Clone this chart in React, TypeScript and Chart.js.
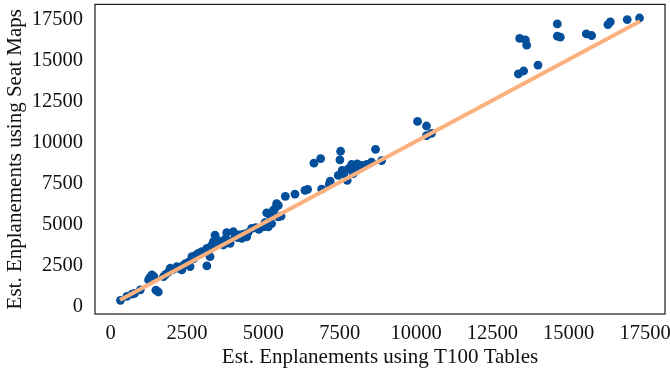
import React, { useEffect, useRef } from "react";
import { Chart, registerables } from "chart.js";

Chart.register(...registerables);

const t100X: number[] = [
  320, 530, 700, 780, 970, 1240, 1280, 1350, 1420, 1480, 1560, 1730, 1800, 1900,
  1950, 2050, 2170, 2250, 2330, 2380, 2450, 2550, 2600, 2660, 2720, 2780, 2870,
  2950, 2980, 3050, 3150, 3150, 3255, 3255, 3300, 3364, 3418, 3450, 3520, 3580,
  3690, 3750, 3800, 3850, 3910, 4017, 4073, 4150, 4200, 4292, 4350, 4455, 4500,
  4619, 4750, 4850, 5000, 5050, 5163, 5109, 5218, 5272, 5327, 5381, 5436, 5490,
  5490, 5580, 5720, 6035, 6363, 6450, 6657, 6876, 6909, 7158, 7190, 7453, 7508,
  7530, 7583, 7638, 7747, 7780, 7890, 7944, 8000, 8074, 8150, 8217, 8381, 8545,
  8675, 8872, 10050, 10343, 10343, 10507, 13352, 13526, 13395, 13582, 13625,
  13995, 14628, 14628, 14726, 15577, 15751, 16285, 16363, 16918, 17321,
];

const seatMapY: number[] = [
  360, 600, 740, 780, 1000, 1610, 1750, 1910, 1800, 980, 870, 1810, 1950, 2100,
  2320, 2250, 2420, 2300, 2220, 2500, 2600, 2700, 2420, 3030, 2900, 3100, 3230,
  3200, 3330, 3300, 3540, 2460, 3030, 3540, 3700, 3940, 4340, 3800, 4000, 3840,
  3740, 4100, 4490, 4000, 3840, 4550, 4240, 4200, 4350, 4140, 4400, 4240, 4500,
  4750, 4800, 4700, 4850, 5100, 4850, 5700, 5560, 5050, 5860, 5970, 6270, 5460,
  6166, 5500, 6713, 6853, 7078, 7139, 8736, 9022, 7157, 7442, 7643, 7989, 8943,
  9466, 8293, 8092, 7685, 8396, 8657, 8092, 8300, 8700, 8550, 8596, 8657, 8797,
  9587, 8900, 11290, 11008, 10420, 10560, 14186, 14368, 16355, 16270, 15948,
  14733, 17243, 16495, 16434, 16636, 16535, 17205, 17363, 17510, 17606,
];

const fitX: number[] = [305, 17337];
const fitY: number[] = [377, 17402];

const xTicks: number[] = [0, 2500, 5000, 7500, 10000, 12500, 15000, 17500];
const yTicks: number[] = [0, 2500, 5000, 7500, 10000, 12500, 15000, 17500];

const xTitle = "Est. Enplanements using T100 Tables";
const yTitle = "Est. Enplanements using Seat Maps";

const FONT = "'Liberation Serif', 'Times New Roman', serif";

const framePlugin = {
  id: "frame",
  afterDatasetsDraw(chart: any) {
    const { ctx, chartArea } = chart;
    ctx.save();
    ctx.strokeStyle = "#1a1a1a";
    ctx.lineWidth = 1.2;
    ctx.strokeRect(
      chartArea.left,
      chartArea.top,
      chartArea.right - chartArea.left,
      chartArea.bottom - chartArea.top
    );
    ctx.restore();
  },
};

export default function App() {
  const ref = useRef<HTMLCanvasElement | null>(null);

  useEffect(() => {
    if (!ref.current) return;
    const points = t100X.map((x, i) => ({ x, y: seatMapY[i] }));
    const fit = fitX.map((x, i) => ({ x, y: fitY[i] }));
    const chart = new Chart(ref.current, {
      type: "scatter",
      data: {
        datasets: [
          {
            type: "line",
            data: fit,
            borderColor: "#fcb07d",
            borderWidth: 4,
            pointRadius: 0,
            fill: false,
            order: 0,
          } as any,
          {
            data: points,
            backgroundColor: "#034f9b",
            borderWidth: 0,
            pointRadius: 4.4,
            order: 1,
          },
        ],
      },
      options: {
        animation: false,
        responsive: false,
        maintainAspectRatio: false,
        layout: { padding: { left: 0, top: 3, right: 5, bottom: 0 } },
        plugins: { legend: { display: false }, tooltip: { enabled: false } },
        scales: {
          x: {
            type: "linear",
            min: -514,
            max: 18155,
            grid: { display: false, drawTicks: false },
            border: { display: false },
            afterBuildTicks: (s: any) => {
              s.ticks = xTicks.map((v) => ({ value: v }));
            },
            afterFit: (s: any) => {
              s.height = 58;
              s.paddingLeft = 0;
              s.paddingRight = 0;
              s.paddingTop = 0;
              s.paddingBottom = 0;
            },
            ticks: {
              padding: 7,
              color: "#111",
              font: { family: FONT, size: 20.5 },
              callback: (v: any) => String(v),
            },
            title: {
              display: true,
              text: xTitle,
              color: "#111",
              font: { family: FONT, size: 21 },
              padding: { top: 0, bottom: 2 },
            },
          },
          y: {
            type: "linear",
            min: -474,
            max: 18436,
            grid: { display: false, drawTicks: false },
            border: { display: false },
            afterBuildTicks: (s: any) => {
              s.ticks = yTicks.map((v) => ({ value: v }));
            },
            afterFit: (s: any) => {
              s.width = 95;
              s.paddingLeft = 0;
              s.paddingRight = 0;
              s.paddingTop = 0;
              s.paddingBottom = 0;
            },
            ticks: {
              padding: 12,
              color: "#111",
              font: { family: FONT, size: 20.5 },
              callback: (v: any) => String(v),
            },
            title: {
              display: true,
              text: yTitle,
              color: "#111",
              font: { family: FONT, size: 21 },
              padding: { top: 3, bottom: 0 },
            },
          },
        },
      },
      plugins: [framePlugin],
    });
    return () => chart.destroy();
  }, []);

  return (
    <div style={{ position: "fixed", left: 0, top: 0, width: 670, height: 372, background: "#fff" }}>
      <canvas ref={ref} width={670} height={372} style={{ display: "block", width: 670, height: 372 }} />
    </div>
  );
}
